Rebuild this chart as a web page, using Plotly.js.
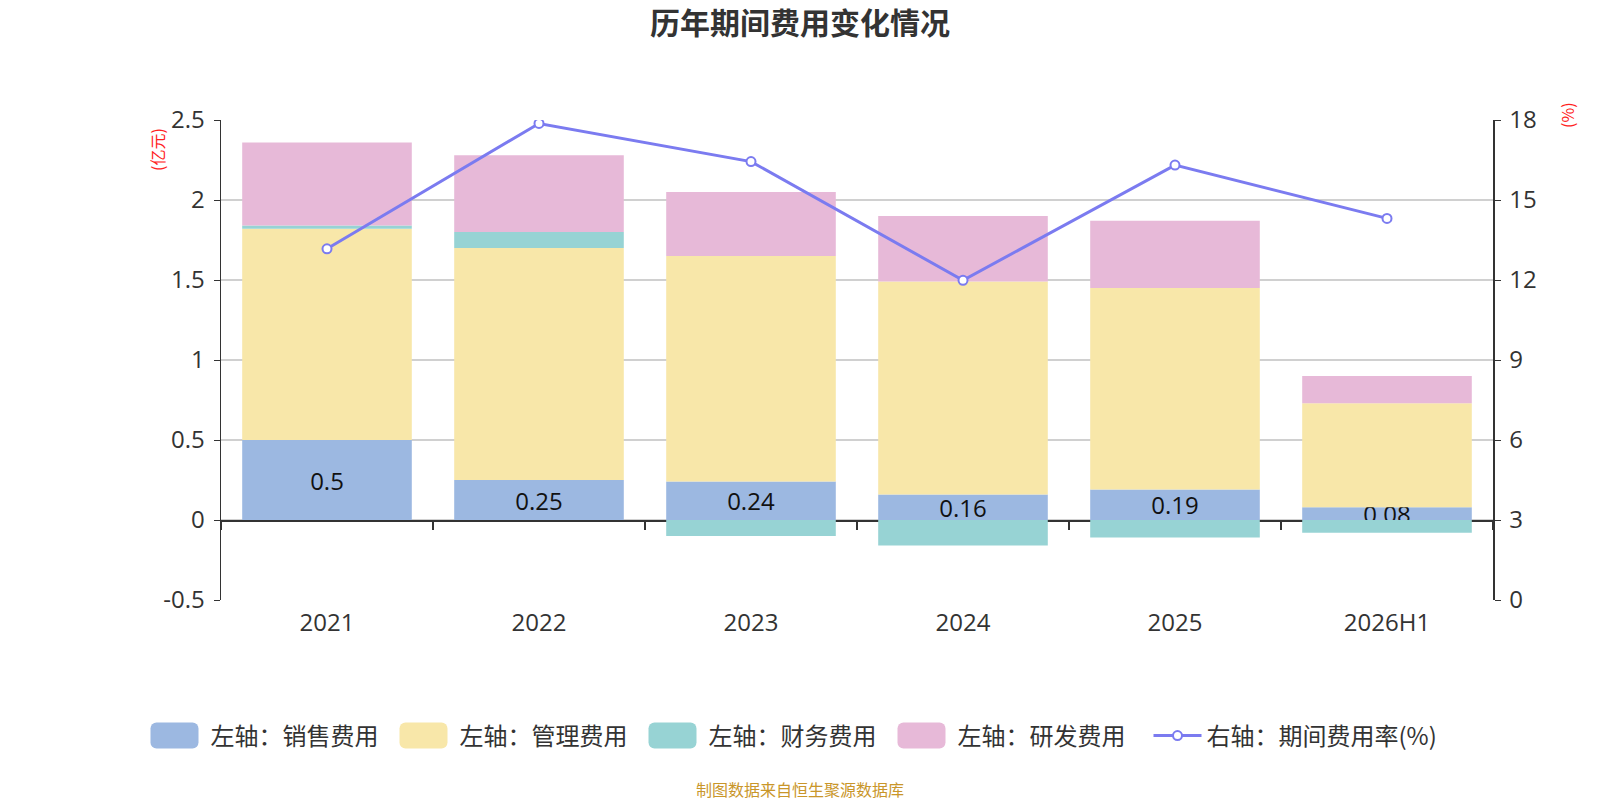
<!DOCTYPE html>
<html>
<head>
<meta charset="utf-8">
<script src="https://cdn.plot.ly/plotly-3.0.1.min.js"></script>
<style>
  html, body { margin: 0; padding: 0; background: #fff; }
  #chart { width: 1600px; height: 800px; }
</style>
</head>
<body>
<div id="chart"></div>
<script>
// data (亿元 / %)
const years = ["2021", "2022", "2023", "2024", "2025", "2026H1"];
const salesCost = [0.5, 0.25, 0.24, 0.16, 0.19, 0.08];
const adminCost = [1.32, 1.45, 1.41, 1.33, 1.26, 0.65];
const financeCost = [0.02, 0.10, -0.10, -0.16, -0.11, -0.08];
const rdCost = [0.52, 0.48, 0.40, 0.41, 0.42, 0.17];
const expenseRate = [13.17, 17.87, 16.44, 11.99, 16.31, 14.31];
const leftTicks = [-0.5, 0, 0.5, 1, 1.5, 2, 2.5];
const leftTickText = ["-0.5", "0", "0.5", "1", "1.5", "2", "2.5"];

const FONT = "'Open Sans', 'Noto Sans CJK SC', sans-serif";
const CJK = "'Noto Sans CJK SC', sans-serif";

function barTrace(name, values, color, withText) {
  const t = {
    type: "bar",
    name: name,
    x: years,
    y: values,
    marker: { color: color },
    hoverinfo: "x+y+name",
  };
  if (withText) {
    t.text = values.map(v => String(v));
    t.textposition = "inside";
    t.insidetextanchor = "middle";
    t.constraintext = "none";
    t.textfont = { size: 24, color: "#111", family: FONT };
  } else {
    t.textposition = "none";
  }
  return t;
}

const traces = [
  barTrace("左轴：销售费用", salesCost, "#9cb8e1", true),
  barTrace("左轴：管理费用", adminCost, "#f8e7a9", false),
  barTrace("左轴：财务费用", financeCost, "#97d3d4", false),
  barTrace("左轴：研发费用", rdCost, "#e7b9d8", false),
  {
    type: "scatter",
    mode: "lines+markers",
    name: "右轴：期间费用率(%)",
    x: years,
    y: expenseRate,
    yaxis: "y2",
    line: { color: "#7b7bf0", width: 3 },
    marker: { symbol: "circle", size: 9, color: "#fff", line: { color: "#7b7bf0", width: 2 } },
  },
  // carrier for the zero axis with boundary ticks
  {
    type: "scatter",
    x: years,
    y: years.map(() => null),
    xaxis: "x2",
    showlegend: false,
    hoverinfo: "skip",
  },
];

const axisFont = { size: 24, color: "#333", family: FONT };

const layout = {
  width: 1600,
  height: 800,
  paper_bgcolor: "#fff",
  plot_bgcolor: "#fff",
  font: { family: FONT, color: "#333" },
  barmode: "relative",
  bargap: 0.2,
  margin: { l: 221, r: 107, t: 120, b: 200 },
  title: {
    text: "<b>历年期间费用变化情况</b>",
    font: { size: 30, color: "#333", family: CJK },
    x: 0.5,
    xanchor: "center",
    y: 1 - 23 / 800,
    yanchor: "middle",
    yref: "container",
  },
  xaxis: {
    type: "category",
    categoryorder: "array",
    categoryarray: years,
    range: [-0.5, 5.5],
    showgrid: false,
    zeroline: false,
    showline: false,
    ticks: "",
    tickfont: axisFont,
    ticklabelstandoff: 6,
  },
  xaxis2: {
    type: "category",
    categoryorder: "array",
    categoryarray: years,
    range: [-0.5, 5.5],
    overlaying: "x",
    anchor: "free",
    position: 1 / 6,
    showline: true,
    linecolor: "#333",
    linewidth: 1.5,
    ticks: "outside",
    tickson: "boundaries",
    ticklen: 8,
    tickcolor: "#333",
    tickwidth: 1.5,
    showticklabels: false,
    showgrid: false,
    zeroline: false,
    layer: "below traces",
  },
  yaxis: {
    range: [-0.5, 2.5],
    tickvals: leftTicks,
    ticktext: leftTickText,
    showgrid: true,
    gridcolor: "#d0d0d0",
    gridwidth: 1.5,
    zeroline: false,
    showline: true,
    linecolor: "#333",
    linewidth: 1.5,
    ticks: "outside",
    ticklen: 6,
    tickcolor: "#333",
    tickfont: axisFont,
    ticklabelstandoff: 4,
  },
  yaxis2: {
    overlaying: "y",
    side: "right",
    range: [0, 18],
    dtick: 3,
    showgrid: false,
    zeroline: false,
    showline: true,
    linecolor: "#333",
    linewidth: 1.5,
    ticks: "outside",
    ticklen: 6,
    tickcolor: "#333",
    tickfont: axisFont,
    ticklabelstandoff: 4,
  },
  legend: {
    orientation: "h",
    x: (152.5 - 221) / 1272,
    xanchor: "left",
    y: (600 - 736) / 480,
    yanchor: "middle",
    font: { size: 24, color: "#333", family: CJK },
    itemwidth: 48,
    entrywidth: 186,
    traceorder: "normal",
  },
  annotations: [
    {
      text: "(亿元)",
      xref: "paper", yref: "paper",
      x: (157 - 221) / 1272, y: (600 - 150) / 480,
      xanchor: "center", yanchor: "middle",
      textangle: -90,
      showarrow: false,
      font: { size: 16, color: "#ff2020", family: CJK },
    },
    {
      text: "(%)",
      xref: "paper", yref: "paper",
      x: (1567 - 221) / 1272, y: (600 - 115) / 480,
      xanchor: "center", yanchor: "middle",
      textangle: -90,
      showarrow: false,
      font: { size: 16, color: "#ff2020", family: CJK },
    },
    {
      text: "制图数据来自恒生聚源数据库",
      xref: "paper", yref: "paper",
      x: (800 - 221) / 1272, y: (600 - 789) / 480,
      xanchor: "center", yanchor: "middle",
      showarrow: false,
      font: { size: 16, color: "#c9962a", family: CJK },
    },
  ],
};

Plotly.newPlot("chart", traces, layout, { displayModeBar: false, staticPlot: true }).then(gd => {
  // bar swatches in the legend as large rounded blocks, leaving a gap before the text
  gd.querySelectorAll(".legend path.legendundefined, .legend g.legendbar path").forEach(p => {
    p.setAttribute("d", "M-25,-13H11A6,6 0 0 1 17,-7V7A6,6 0 0 1 11,13H-25A6,6 0 0 1 -31,7V-7A6,6 0 0 1 -25,-13Z");
  });
  // let the last legend entry run past its fixed entry width
  gd.querySelectorAll(".legend [clip-path]").forEach(el => el.removeAttribute("clip-path"));
});
</script>
</body>
</html>
